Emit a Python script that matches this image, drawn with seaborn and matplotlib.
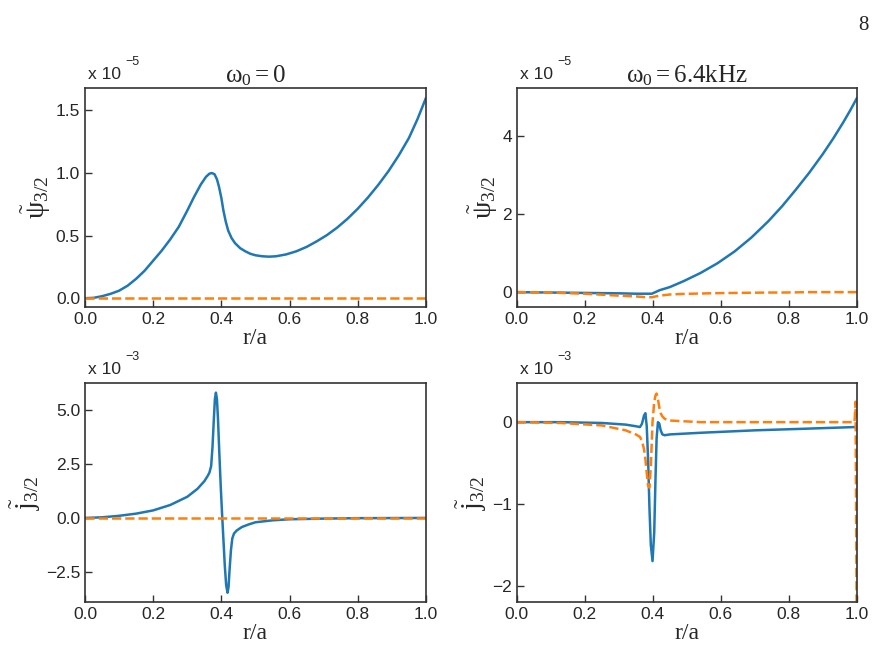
import numpy as np
import pandas as pd
import seaborn as sns
import matplotlib.pyplot as plt

# ---- data (psi in units of 1e-5, j in units of 1e-3) ----
# omega_0 = 0, psi
r_psi0 = [0.0, 0.025, 0.05, 0.075, 0.10, 0.125, 0.15, 0.175, 0.20, 0.225, 0.25, 0.275,
          0.30, 0.32, 0.34, 0.355, 0.365, 0.372, 0.38, 0.387, 0.393, 0.40, 0.406, 0.413,
          0.42, 0.43, 0.44, 0.455, 0.47, 0.485, 0.50, 0.52, 0.54, 0.56, 0.59, 0.62,
          0.65, 0.68, 0.71, 0.74, 0.77, 0.80, 0.83, 0.86, 0.89, 0.92, 0.95, 0.975, 1.0]
psi0_re = [0.0, 0.003, 0.016, 0.035, 0.06, 0.1, 0.155, 0.22, 0.30, 0.38, 0.47, 0.57,
           0.70, 0.81, 0.91, 0.97, 0.995, 1.0, 0.99, 0.95, 0.89, 0.80, 0.70, 0.61,
           0.54, 0.48, 0.44, 0.40, 0.375, 0.355, 0.343, 0.335, 0.332, 0.335, 0.35, 0.375,
           0.41, 0.455, 0.505, 0.565, 0.635, 0.715, 0.805, 0.905, 1.015, 1.14, 1.28, 1.43, 1.6]
psi0_im = [0.0] * len(r_psi0)

# omega_0 = 6.4 kHz, psi
r_psi1 = [0.0, 0.1, 0.2, 0.3, 0.35, 0.38, 0.397, 0.42, 0.45, 0.49, 0.54, 0.59, 0.64,
          0.69, 0.74, 0.78, 0.82, 0.86, 0.90, 0.93, 0.96, 0.98, 1.0]
psi1_re = [0.0, -0.01, -0.02, -0.03, -0.04, -0.04, -0.04, 0.05, 0.13, 0.28, 0.49, 0.74, 1.04,
           1.4, 1.82, 2.2, 2.62, 3.06, 3.54, 3.93, 4.35, 4.65, 4.97]
psi1_im = [0.0, -0.01, -0.04, -0.09, -0.11, -0.13, -0.13, -0.09, -0.06, -0.045, -0.035, -0.025, -0.02,
           -0.015, -0.01, -0.01, -0.005, 0.0, 0.0, 0.0, 0.0, 0.0, 0.0]

# omega_0 = 0, j
r_j0 = [0.0, 0.05, 0.10, 0.15, 0.20, 0.25, 0.30, 0.33, 0.35, 0.36, 0.365, 0.37, 0.374,
        0.378, 0.381, 0.384, 0.387, 0.39, 0.394, 0.398, 0.402, 0.406, 0.41, 0.414, 0.418,
        0.421, 0.424, 0.428, 0.432, 0.437, 0.445, 0.46, 0.48, 0.50, 0.55, 0.60, 0.70,
        0.80, 1.0]
j0_re = [0.0, 0.03, 0.1, 0.2, 0.35, 0.6, 0.98, 1.35, 1.7, 1.95, 2.1, 2.4, 3.3,
         4.6, 5.5, 5.8, 5.5, 4.6, 3.0, 1.5, 0.2, -1.0, -2.2, -3.1, -3.46,
         -3.2, -2.4, -1.5, -0.95, -0.72, -0.58, -0.42, -0.3, -0.2, -0.11, -0.06, -0.03,
         -0.01, 0.0]
j0_im = [0.0] * len(r_j0)

# omega_0 = 6.4 kHz, j
r_j1 = [0.0, 0.13, 0.25, 0.32, 0.35, 0.362, 0.368, 0.374, 0.378, 0.382, 0.386, 0.39,
        0.394, 0.399, 0.404, 0.408, 0.411, 0.415, 0.419, 0.423, 0.428, 0.435, 0.45,
        0.54, 0.70, 0.85, 0.993, 0.996, 1.0]
j1_re = [0.0, 0.0, -0.01, -0.03, -0.05, -0.06, -0.02, 0.08, 0.11, -0.05, -0.45, -1.05,
         -1.5, -1.7, -1.35, -0.65, -0.2, 0.0, -0.02, -0.1, -0.15, -0.16, -0.15,
         -0.13, -0.1, -0.08, -0.06, -0.06, -0.05]
j1_im = [0.0, -0.01, -0.04, -0.1, -0.15, -0.18, -0.23, -0.33, -0.45, -0.62, -0.78, -0.8,
         -0.55, 0.0, 0.25, 0.33, 0.35, 0.28, 0.18, 0.11, 0.07, 0.04, 0.02,
         0.0, 0.0, 0.0, 0.0, 0.25, -3.0]

panels = [
    (r_psi0, psi0_re, psi0_im, r'$\omega_0 = 0$', r'$\tilde{\psi}_{3/2}$', '−5'),
    (r_psi1, psi1_re, psi1_im, r'$\omega_0 = 6.4\mathrm{kHz}$', r'$\tilde{\psi}_{3/2}$', '−5'),
    (r_j0, j0_re, j0_im, None, r'$\tilde{\mathrm{j}}_{3/2}$', '−3'),
    (r_j1, j1_re, j1_im, None, r'$\tilde{\mathrm{j}}_{3/2}$', '−3'),
]

sns.set_style('ticks')
plt.rcParams['font.family'] = ['Liberation Sans', 'DejaVu Sans']
plt.rcParams['mathtext.fontset'] = 'custom'
plt.rcParams['mathtext.rm'] = 'Liberation Serif'
plt.rcParams['mathtext.it'] = 'Liberation Serif'
plt.rcParams['mathtext.bf'] = 'Liberation Serif:bold'
plt.rcParams['axes.edgecolor'] = '#333333'
plt.rcParams['axes.linewidth'] = 1.2

fig = plt.figure(figsize=(8.88, 6.54), dpi=100)
rects = [[0.0957, 0.5306, 0.384, 0.335], [0.582, 0.5306, 0.383, 0.335],
         [0.0957, 0.0795, 0.384, 0.335], [0.582, 0.0795, 0.383, 0.335]]
ylims = [(-0.07, 1.68), (-0.38, 5.23), (-3.89, 6.25), (-2.2, 0.48)]
yticks = [[0.0, 0.5, 1.0, 1.5], [0, 2, 4], [-2.5, 0.0, 2.5, 5.0], [-2, -1, 0]]

for i, (r, re, im, title, ylab, exp) in enumerate(panels):
    ax = fig.add_axes(rects[i])
    df = pd.DataFrame({'r': r, 're': re, 'im': im})
    sns.lineplot(data=df, x='r', y='re', ax=ax, color='#1f77b4', lw=1.8)
    sns.lineplot(data=df, x='r', y='im', ax=ax, color='#ff7f0e', lw=1.8, linestyle='--')
    ax.set_xlim(0, 1.0)
    ax.set_ylim(*ylims[i])
    ax.set_xticks([0.0, 0.2, 0.4, 0.6, 0.8, 1.0])
    ax.set_xticklabels(['0.0', '0.2', '0.4', '0.6', '0.8', '1.0'])
    ax.set_yticks(yticks[i])
    if i == 1 or i == 3:
        ax.set_yticklabels([str(int(t)).replace('-', '−') for t in yticks[i]])
    else:
        ax.set_yticklabels([f'{t:.1f}'.replace('-', '−') for t in yticks[i]])
    ax.tick_params(direction='in', length=5, width=1, labelsize=12.5, color='#333333')
    ax.set_xlabel('r/a', fontname='Liberation Serif', fontsize=17, labelpad=1)
    ax.set_ylabel(ylab, fontsize=20, labelpad=2)
    if title:
        ax.set_title(title, fontsize=18, pad=3)
    ax.text(0.008, 1.025, 'x 10', transform=ax.transAxes, fontsize=12.5, va='bottom')
    ax.text(0.118, 1.09, exp, transform=ax.transAxes, fontsize=9, va='bottom')

fig.text(0.972, 0.975, '8', fontname='Liberation Serif', fontsize=15, ha='center', va='top')

fig.savefig('out.png', dpi=100)
